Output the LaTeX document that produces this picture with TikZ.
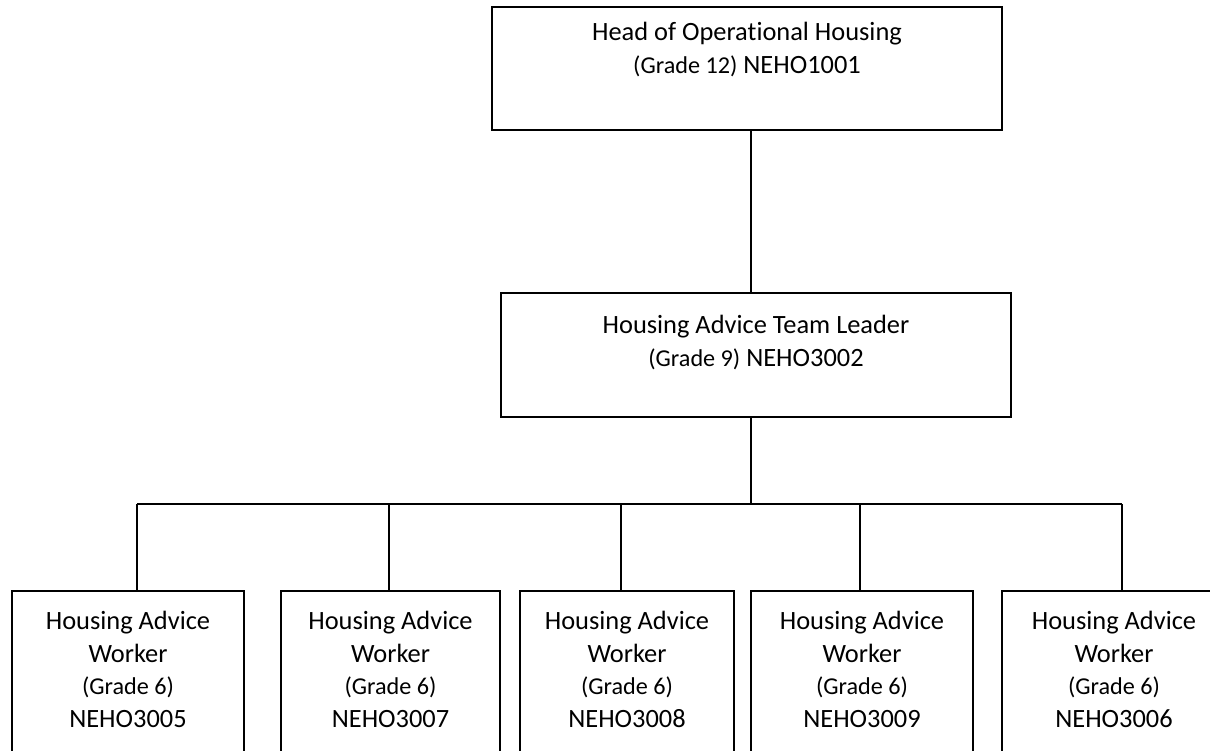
\documentclass[tikz,border=0pt]{standalone}
\usepackage{fontspec}
\setmainfont{Carlito}[Ligatures=NoCommon]
\usetikzlibrary{calc}
\tikzset{
  box/.style={draw, line width=1.7pt, rectangle, inner sep=0pt},
  conn/.style={draw, line width=1.4pt},
  lbl/.style={align=center, inner sep=0pt, anchor=north, font=\fontsize{26.4}{32.5}\selectfont},
}
\newcommand{\smtxt}[1]{{\fontsize{24.2}{32.5}\selectfont #1}}
\begin{document}
\begin{tikzpicture}[x=1pt, y=-1pt]
\useasboundingbox (0,0) rectangle (1210,750);
\clip (0,0) rectangle (1210,750);
% top
\node[box, minimum width=510pt, minimum height=123pt] (head) at (747,68.5) {};
\node[lbl] (headtxt) at (747,22) {Head of Operational Housing\\\smtxt{(Grade 12)} NEHO1001};
% middle
\node[box, minimum width=510pt, minimum height=124pt] (tl) at (756,355) {};
\node[lbl] (tltxt) at (756,315) {Housing Advice Team Leader\\\smtxt{(Grade 9)} NEHO3002};
% bottom
\node[box, minimum width=232pt, minimum height=209pt] (w1) at (128,695.5) {};
\node[box, minimum width=219pt, minimum height=209pt] (w2) at (390.5,695.5) {};
\node[box, minimum width=214pt, minimum height=209pt] (w3) at (627,695.5) {};
\node[box, minimum width=222pt, minimum height=209pt] (w4) at (862,695.5) {};
\node[box, minimum width=224pt, minimum height=209pt] (w5) at (1114,695.5) {};
\node[lbl] (w1t) at (128,611) {Housing Advice\\Worker\\\smtxt{(Grade 6)}\\NEHO3005};
\node[lbl] (w2t) at (390.5,611) {Housing Advice\\Worker\\\smtxt{(Grade 6)}\\NEHO3007};
\node[lbl] (w3t) at (627,611) {Housing Advice\\Worker\\\smtxt{(Grade 6)}\\NEHO3008};
\node[lbl] (w4t) at (862,611) {Housing Advice\\Worker\\\smtxt{(Grade 6)}\\NEHO3009};
\node[lbl] (w5t) at (1114,611) {Housing Advice\\Worker\\\smtxt{(Grade 6)}\\NEHO3006};
% connectors
\coordinate (bus) at (751,504);
\coordinate (busL) at (137,504);
\coordinate (d2) at (389,504);
\coordinate (d3) at (621,504);
\coordinate (d4) at (860,504);
\coordinate (busR) at (1122,504);
\draw[conn] (head.south -| bus) -- (tl.north -| bus);
\draw[conn] (tl.south -| bus) -- (bus);
\draw[conn] (busL) -- (busR);
\draw[conn] (busL) -- (w1.north -| busL);
\draw[conn] (d2) -- (w2.north -| d2);
\draw[conn] (d3) -- (w3.north -| d3);
\draw[conn] (d4) -- (w4.north -| d4);
\draw[conn] (busR) -- (w5.north -| busR);
\end{tikzpicture}
\end{document}
